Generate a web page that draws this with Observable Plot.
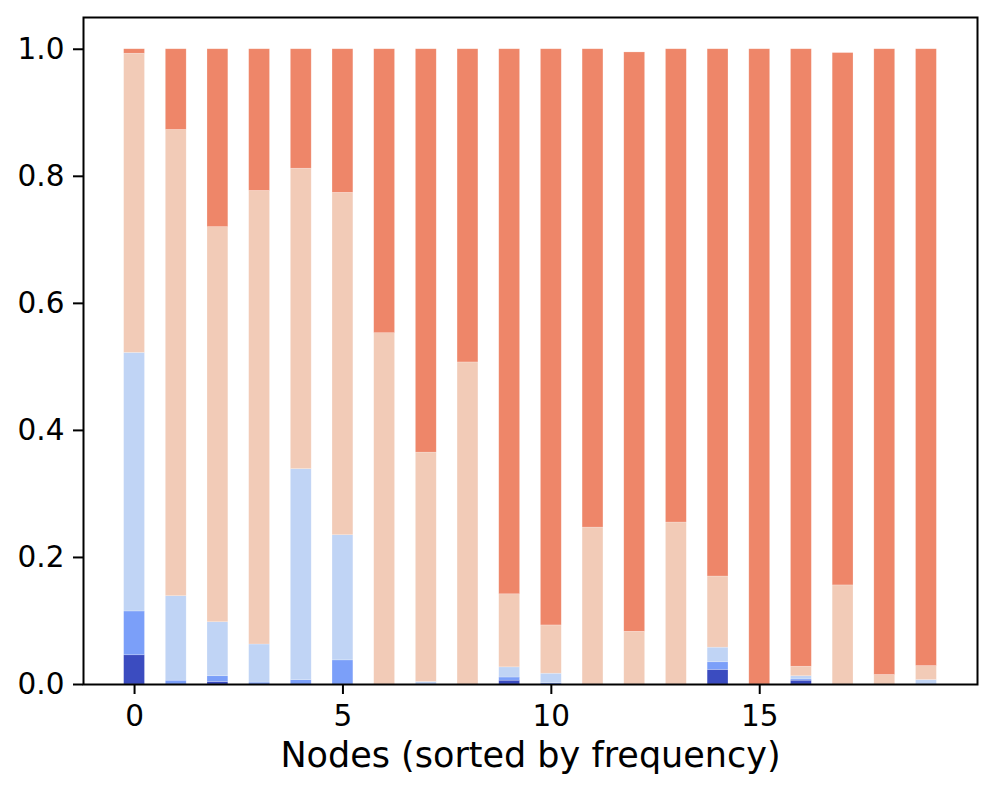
<!DOCTYPE html>
<html>
<head>
<meta charset="utf-8">
<script src="https://cdn.jsdelivr.net/npm/d3@7"></script>
<script src="https://cdn.jsdelivr.net/npm/@observablehq/plot@0.6"></script>
<style>
  html, body { margin: 0; padding: 0; background: #ffffff; }
  #chart svg { display: block; }
</style>
</head>
<body>
<div id="chart"></div>
<script>
// Node indices (sorted by frequency)
const nodes = d3.range(20);

// Fraction of each category per node (stacked bottom to top)
const layerNames = ["c0", "c1", "c2", "c3", "c4"];
const layerColors = ["#3b4cc0", "#7b9ff9", "#c0d4f5", "#f2cbb7", "#ee8669"];

const c0 = [0.046, 0, 0.004, 0, 0, 0, 0, 0, 0, 0.006, 0, 0, 0, 0, 0.023, 0, 0.006, 0, 0, 0];
const c1 = [0.069, 0.006, 0.009, 0.003, 0.007, 0.038, 0, 0, 0, 0.005, 0.002, 0, 0, 0, 0.012, 0, 0.002, 0, 0, 0];
const c2 = [0.407, 0.133, 0.085, 0.060, 0.332, 0.197, 0, 0.004, 0, 0.016, 0.015, 0, 0, 0, 0.023, 0, 0.005, 0, 0, 0.007];
const c3 = [0.471, 0.734, 0.622, 0.714, 0.473, 0.539, 0.553, 0.361, 0.507, 0.115, 0.076, 0.247, 0.083, 0.255, 0.112, 0, 0.015, 0.156, 0.015, 0.022];
const c4 = [0.007, 0.127, 0.280, 0.223, 0.188, 0.226, 0.447, 0.635, 0.493, 0.858, 0.907, 0.753, 0.912, 0.745, 0.830, 1.0, 0.972, 0.838, 0.985, 0.971];

const yTicks = [0, 0.2, 0.4, 0.6, 0.8, 1.0];
const xTicks = [0, 5, 10, 15];
const xLabel = "Nodes (sorted by frequency)";

// Build stacked table
const series = [c0, c1, c2, c3, c4];
const rows = [];
nodes.forEach((n, i) => {
  let base = 0;
  series.forEach((s, k) => {
    const v = s[i];
    rows.push({node: n, layer: layerNames[k], y1: base, y2: base + v});
    base += v;
  });
});

const barHalf = 0.25;

const chart = Plot.plot({
  width: 996,
  height: 793,
  marginLeft: 83,
  marginRight: 19,
  marginTop: 17,
  marginBottom: 109,
  style: {fontFamily: "DejaVu Sans", color: "#000", background: "#fff"},
  x: {domain: [-1.225, 20.225]},
  y: {domain: [0, 1.05]},
  color: {domain: layerNames, range: layerColors},
  marks: [
    Plot.rect(rows, {
      x1: d => d.node - barHalf,
      x2: d => d.node + barHalf,
      y1: "y1",
      y2: "y2",
      fill: "layer",
      stroke: "#ffffff",
      strokeWidth: 0.6,
      strokeOpacity: 0.35
    }),
    Plot.frame({stroke: "#000", strokeWidth: 2}),
    Plot.axisY({
      ticks: yTicks,
      tickFormat: d3.format(".1f"),
      tickSize: 10,
      tickPadding: 9,
      fontSize: 29.5,
      strokeWidth: 2,
      label: null
    }),
    Plot.axisX({
      ticks: xTicks,
      tickFormat: d3.format("d"),
      tickSize: 10,
      tickPadding: 11,
      fontSize: 29.5,
      strokeWidth: 2,
      label: null
    }),
    Plot.text([xLabel], {
      frameAnchor: "bottom",
      lineAnchor: "top",
      dy: 58,
      fontSize: 35,
      fill: "#000",
      text: d => d
    })
  ]
});

document.getElementById("chart").appendChild(chart);
</script>
</body>
</html>
